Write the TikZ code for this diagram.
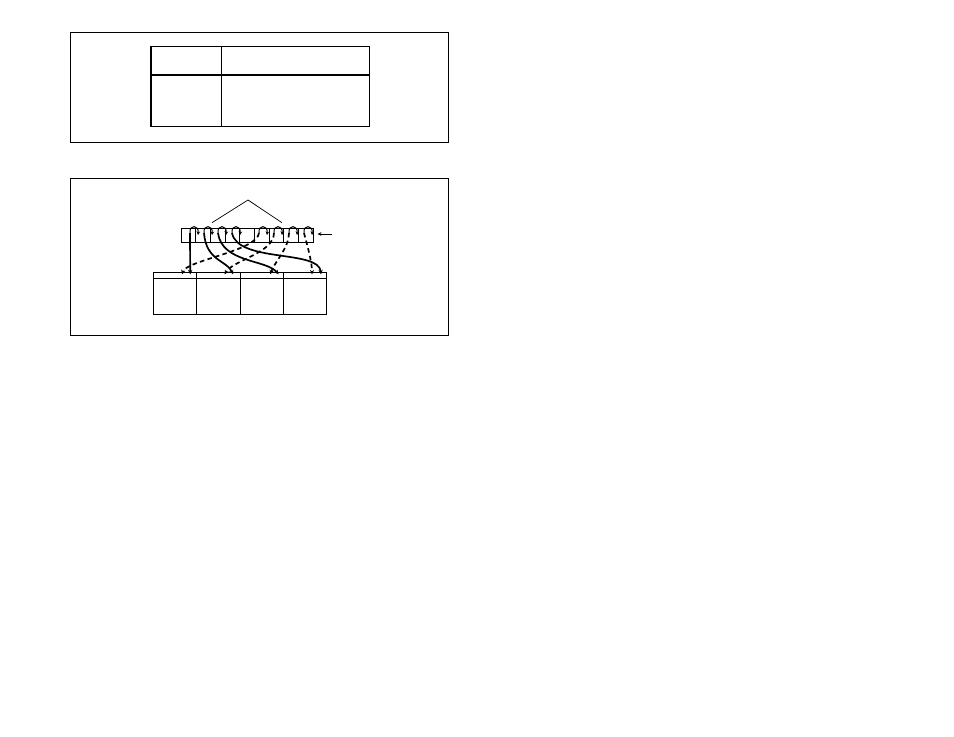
\documentclass[tikz,border=0pt]{standalone}
\usetikzlibrary{positioning,arrows.meta}
\begin{document}
\begin{tikzpicture}[x=0.25mm,y=-0.25mm]
    \tikzset{
        cellbox/.style={draw,line width=0.6pt,minimum width=3.675mm,minimum height=3.5mm,inner sep=0pt,outer sep=0pt},
        blockbox/.style={draw,line width=0.6pt,minimum width=10.83mm,minimum height=10.5mm,inner sep=0pt,outer sep=0pt},
        hook/.style={line width=0.7pt,-{Stealth[length=2.6pt,width=2.6pt]}},
        ptr/.style={line width=1.2pt,-{Stealth[length=3.2pt,width=3pt]}},
        dptr/.style={ptr,dash pattern=on 3.2pt off 2.4pt}
    }
    \useasboundingbox (0,0) rectangle (954,737);

    % upper panel
    \draw[line width=0.9pt] (70.5,32.5) rectangle (448.5,142.5);
    \draw[line width=1.4pt] (70.5,32.5) -- (448.5,32.5) (70.5,142.5) -- (448.5,142.5);
    \draw[line width=0.9pt] (151,46.5) rectangle (369.5,126.3);
    \draw[line width=1.6pt] (151.3,46.5) -- (151.3,126.3);
    \draw[line width=0.9pt] (221.3,46.5) -- (221.3,126.3);
    \draw[line width=0.9pt] (151,75) -- (369.5,75);

    % lower panel
    \draw[line width=0.8pt] (70.5,178.5) rectangle (448.5,335.5);

    \node[cellbox] (c1) at (188.35,235) {};
    \foreach \k [remember=\k as \prev (initially 1)] in {2,...,9}
        \node[cellbox,right=0pt of c\prev] (c\k) {};

    \node[blockbox] (b1) at (174.97,293) {};
    \foreach \k [remember=\k as \prev (initially 1)] in {2,3,4}
        \node[blockbox,right=0pt of b\prev] (b\k) {};
    \foreach \k in {1,...,4}
        \draw[line width=0.6pt] ([yshift=-1.5mm]b\k.north west) -- ([yshift=-1.5mm]b\k.north east);

    \coordinate (apex) at (248,200);
    \coordinate (legl) at (212,222.7);
    \coordinate (legr) at (282,222.7);
    \draw[line width=0.5pt] (legl) -- (apex) -- (legr);

    \coordinate (entry) at (332,234);
    \draw[hook] (entry) -- ([xshift=1.1mm,yshift=0.25mm]c9.east);

    % pointer starts and little hooks over the cells
    \foreach \k/\dx in {1/0.41,2/0.24,3/0.06,4/-0.11,6/-0.71,7/-0.64,8/-0.56,9/-0.49}{
        \coordinate (s\k) at ([xshift=\dx mm,yshift=0.5mm]c\k.center);
        \coordinate (t\k) at ([xshift=2mm,yshift=-0.5mm]s\k);
        \draw[hook] (s\k) .. controls +(-1,-9) and +(1,-10) .. (t\k);
    }

    % pointer ends on the block headers
    \foreach \k/\sx/\dx in {1/1.6/3.65,2/1.73/3.83,3/1.17/3.24,4/1.4/3.65}{
        \coordinate (e\k) at ([xshift=-\sx mm,yshift=-0.6mm]b\k.north east);
        \coordinate (f\k) at ([xshift=-\dx mm,yshift=-0.6mm]b\k.north east);
    }

    \draw[ptr] (s1) -- (e1);
    \draw[ptr] (s2) .. controls +(2,28) and +(-6,-14) .. (e2);
    \draw[ptr] (s3) .. controls +(4,30) and +(-12,-15) .. (e3);
    \draw[ptr] (s4) .. controls +(6,30) and +(-2,-25) .. (e4);

    \draw[dptr] (s6) .. controls +(-2,18) and +(4,-14) .. (f1);
    \draw[dptr] (s7) .. controls +(0,20) and +(8,-14) .. (f2);
    \draw[dptr] (s8) .. controls +(0,15) and +(4,-12) .. (f3);
    \draw[dptr] (s9) .. controls +(4,15) and +(0,-12) .. (f4);
\end{tikzpicture}
\end{document}
